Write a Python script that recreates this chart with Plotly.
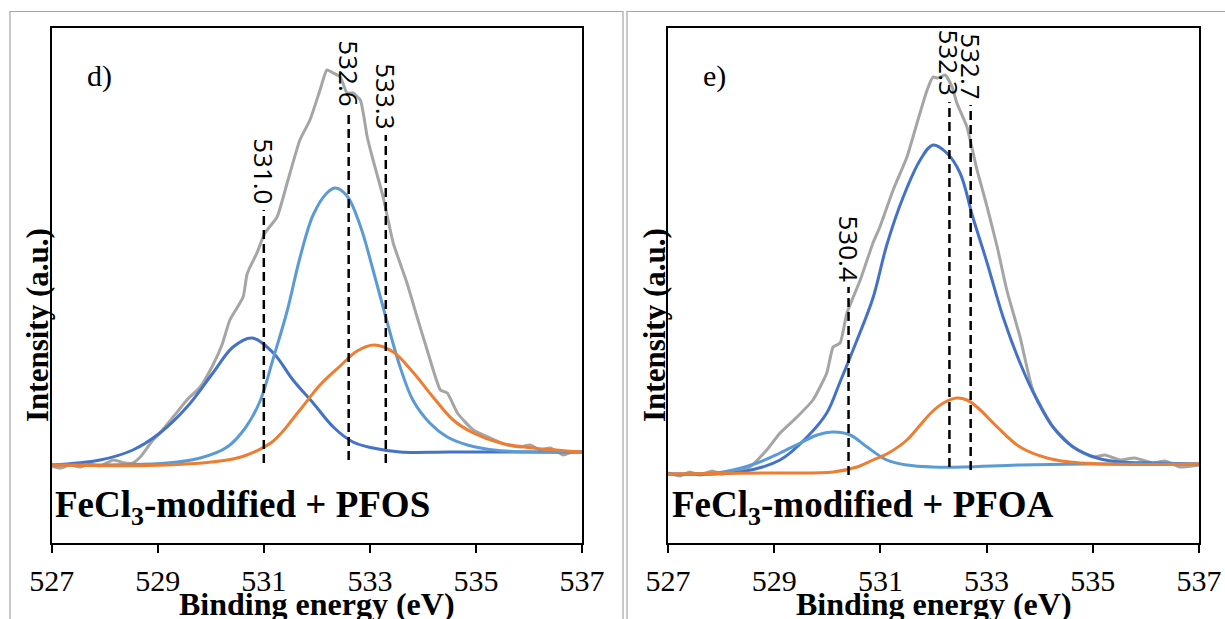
import plotly.graph_objects as go

W, H = 1225, 619

# ---------------- Panel d) FeCl3-modified + PFOS ----------------
d_env_be = [527.0, 527.16, 527.35, 527.53, 527.72, 527.91, 528.16, 528.38, 528.53, 528.67,
            528.91, 529.04, 529.29, 529.55, 529.80, 530.04, 530.21, 530.36, 530.61, 530.68,
            530.74, 530.87, 531.02, 531.25, 531.44, 531.68, 531.87, 532.06, 532.19, 532.31,
            532.44, 532.57, 532.68, 532.82, 532.95, 533.06, 533.25, 533.44, 533.70, 533.89,
            534.08, 534.33, 534.46, 534.65, 534.95, 535.27, 535.59, 535.84, 536.02, 536.21,
            536.40, 536.65, 536.82, 537.0]
d_env_int = [15.4, 15.0, 15.6, 15.2, 15.8, 15.4, 16.6, 16.0, 16.0, 17.2,
             20.6, 22.0, 25.2, 28.6, 31.2, 35.6, 39.6, 44.6, 49.2, 53.6,
             55.2, 58.0, 62.0, 65.2, 72.0, 80.6, 84.6, 90.6, 94.6, 94.0,
             93.2, 90.0, 90.0, 88.6, 81.2, 76.6, 69.2, 60.0, 52.0, 45.2,
             38.6, 30.6, 30.0, 26.0, 22.6, 21.0, 19.6, 19.2, 19.6, 18.6,
             19.0, 17.6, 18.2, 18.2]

d_c1_be = [527.0, 527.91, 528.53, 529.04, 529.55, 530.04, 530.42, 530.78, 531.18, 531.55,
           531.93, 532.31, 532.68, 533.06, 533.57, 534.51, 537.0]
d_c1_int = [15.6, 16.6, 18.6, 22.0, 27.2, 34.0, 39.2, 41.0, 38.0, 32.6,
            28.0, 23.2, 20.2, 19.0, 18.2, 18.2, 18.2]

d_c2_be = [527.0, 529.18, 529.80, 530.31, 530.65, 530.93, 531.18, 531.44, 531.68, 531.93,
           532.19, 532.35, 532.57, 532.82, 533.06, 533.33, 533.57, 533.81, 534.13, 534.46,
           534.84, 535.33, 536.08, 537.0]
d_c2_int = [15.6, 16.0, 17.0, 19.2, 23.0, 28.4, 37.0, 46.4, 57.0, 65.6,
            70.0, 71.0, 69.4, 63.4, 54.6, 44.0, 35.2, 28.6, 24.0, 21.2,
            19.6, 18.6, 18.2, 18.2]

d_c3_be = [527.0, 529.18, 530.31, 530.68, 531.18, 531.68, 532.06, 532.44, 532.76, 533.08,
           533.44, 533.81, 534.19, 534.57, 534.95, 535.46, 536.08, 537.0]
d_c3_int = [15.6, 15.6, 16.6, 17.6, 20.4, 26.6, 31.6, 35.4, 38.4, 39.6,
            38.2, 34.2, 29.2, 24.6, 22.0, 20.0, 19.0, 18.2]

d_peak_be = [531.0, 532.6, 533.3]
d_peak_top = [66.6, 86.2, 81.6]
d_peak_base = [16.0, 16.6, 16.0]

# ---------------- Panel e) FeCl3-modified + PFOA ----------------
e_env_be = [527.0, 527.23, 527.41, 527.60, 527.83, 528.02, 528.22, 528.54, 528.86, 529.11,
            529.43, 529.73, 529.99, 530.11, 530.24, 530.37, 530.62, 530.86, 530.99, 531.24,
            531.50, 531.69, 531.88, 531.99, 532.08, 532.22, 532.35, 532.44, 532.63, 532.82,
            533.01, 533.20, 533.38, 533.63, 533.87, 534.25, 534.63, 535.00, 535.23, 535.51,
            535.79, 536.13, 536.36, 536.64, 537.0]
e_env_int = [14.0, 13.4, 14.2, 13.6, 14.4, 13.8, 14.4, 15.2, 18.6, 22.0,
             25.2, 28.6, 34.0, 39.2, 40.0, 46.0, 52.6, 60.0, 63.2, 70.6,
             77.2, 84.0, 90.6, 93.2, 93.0, 93.6, 91.2, 88.0, 83.2, 74.6,
             67.2, 59.2, 50.6, 41.2, 30.6, 23.2, 19.2, 17.2, 17.6, 16.6,
             17.0, 16.0, 16.4, 15.2, 15.6]

e_c1_be = [527.0, 528.36, 529.11, 529.62, 529.99, 530.24, 530.56, 530.86, 531.12, 531.43,
           531.75, 531.99, 532.25, 532.50, 532.74, 533.01, 533.31, 533.63, 533.95, 534.25,
           534.63, 535.08, 535.51, 536.13, 537.0]
e_c1_int = [13.8, 14.2, 16.6, 21.2, 26.0, 32.2, 40.6, 49.0, 59.6, 69.2,
            76.6, 79.6, 78.0, 74.0, 65.2, 56.0, 45.2, 36.0, 28.6, 23.2,
            19.2, 17.0, 16.2, 16.0, 15.8]

e_c2_be = [527.0, 528.04, 528.68, 529.11, 529.49, 529.81, 530.11, 530.43, 530.75, 531.12,
           531.50, 531.99, 532.56, 533.63, 534.89, 537.0]
e_c2_int = [13.8, 14.2, 16.0, 18.0, 20.0, 21.6, 22.2, 21.6, 19.2, 16.6,
            15.6, 15.2, 15.2, 15.6, 15.8, 15.8]

e_c3_be = [527.0, 528.98, 530.11, 530.56, 530.86, 531.12, 531.50, 531.75, 531.99, 532.22,
           532.44, 532.63, 532.82, 533.20, 533.63, 534.14, 534.76, 537.0]
e_c3_int = [13.8, 14.0, 14.2, 15.2, 16.6, 17.8, 20.6, 23.6, 26.4, 28.2,
            29.0, 28.6, 27.2, 23.2, 19.2, 17.0, 16.0, 15.8]

e_peak_be = [530.4, 532.3, 532.7]
e_peak_top = [51.2, 88.2, 87.6]
e_peak_base = [13.6, 15.2, 14.6]

x_ticks = [527, 529, 531, 533, 535, 537]
x_range = [527, 537]
y_range = [0, 103]

GRAY = "#A5A5A5"
DARK_BLUE = "#4472C4"
LIGHT_BLUE = "#5B9BD5"
ORANGE = "#ED7D31"

SERIF = "Liberation Serif"
SANS = "Open Sans"


def px(x):
    return x / W


def py(y):
    return 1 - y / H


panels = [
    dict(xa="x", ya="y", dom_x=[px(51.7), px(582)],
         env=(d_env_be, d_env_int),
         comps=[(d_c1_be, d_c1_int, DARK_BLUE), (d_c2_be, d_c2_int, LIGHT_BLUE),
                (d_c3_be, d_c3_int, ORANGE)],
         peaks=(d_peak_be, d_peak_top, d_peak_base),
         tag="d)", tag_x=99, sample="FeCl<sub>3</sub>-modified + PFOS", sample_x=53,
         ylab_x=37),
    dict(xa="x2", ya="y2", dom_x=[px(668), px(1199)],
         env=(e_env_be, e_env_int),
         comps=[(e_c1_be, e_c1_int, DARK_BLUE), (e_c2_be, e_c2_int, LIGHT_BLUE),
                (e_c3_be, e_c3_int, ORANGE)],
         peaks=(e_peak_be, e_peak_top, e_peak_base),
         tag="e)", tag_x=714, sample="FeCl<sub>3</sub>-modified + PFOA", sample_x=670,
         ylab_x=654),
]

fig = go.Figure()
annotations = []
shapes = []

# outer panel frames
shapes.append(dict(type="rect", xref="paper", yref="paper",
                   x0=px(10), x1=px(623), y0=py(640), y1=py(11.5),
                   line=dict(color="#A6A6A6", width=1.2), fillcolor="rgba(0,0,0,0)", layer="below"))
shapes.append(dict(type="rect", xref="paper", yref="paper",
                   x0=px(627), x1=px(1240), y0=py(640), y1=py(11.5),
                   line=dict(color="#A6A6A6", width=1.2), fillcolor="rgba(0,0,0,0)", layer="below"))

for p in panels:
    xa, ya = p["xa"], p["ya"]
    be, inten = p["env"]
    fig.add_trace(go.Scatter(x=be, y=inten, xaxis=xa, yaxis=ya, mode="lines",
                             line=dict(color=GRAY, width=3, shape="spline", smoothing=0.5),
                             showlegend=False, hoverinfo="skip"))
    for cbe, cint, col in p["comps"]:
        fig.add_trace(go.Scatter(x=cbe, y=cint, xaxis=xa, yaxis=ya, mode="lines",
                                 line=dict(color=col, width=3, shape="spline", smoothing=1.0),
                                 showlegend=False, hoverinfo="skip"))
    pk_be, pk_top, pk_base = p["peaks"]
    for v, top, base in zip(pk_be, pk_top, pk_base):
        fig.add_trace(go.Scatter(x=[v, v], y=[base, top], xaxis=xa, yaxis=ya, mode="lines",
                                 line=dict(color="black", width=2.5, dash="9px,5px"),
                                 showlegend=False, hoverinfo="skip"))
        annotations.append(dict(x=v, y=top, xref=xa, yref=ya, text=f"{v:.1f}",
                                textangle=90, showarrow=False, xanchor="center",
                                yanchor="bottom", yshift=4,
                                font=dict(family=SANS, size=26, color="black")))
    # panel tag
    annotations.append(dict(x=px(p["tag_x"]), y=py(76), xref="paper", yref="paper",
                            text=p["tag"], showarrow=False, xanchor="center", yanchor="middle",
                            font=dict(family=SERIF, size=30, color="black")))
    # sample name
    annotations.append(dict(x=px(p["sample_x"]), y=py(507), xref="paper", yref="paper",
                            text=f"<b>{p['sample']}</b>", showarrow=False, xanchor="left",
                            yanchor="middle", font=dict(family=SERIF, size=37, color="black")))
    # axis titles
    annotations.append(dict(x=(p["dom_x"][0] + p["dom_x"][1]) / 2, y=py(604), xref="paper",
                            yref="paper", text="<b>Binding energy (eV)</b>", showarrow=False,
                            xanchor="center", yanchor="middle",
                            font=dict(family=SERIF, size=32, color="black")))
    annotations.append(dict(x=px(p["ylab_x"]), y=py(325), xref="paper", yref="paper",
                            text="<b>Intensity (a.u.)</b>", textangle=-90, showarrow=False,
                            xanchor="center", yanchor="middle",
                            font=dict(family=SERIF, size=31, color="black")))

xaxis_common = dict(range=x_range, tickmode="array", tickvals=x_ticks,
                    ticktext=[str(t) for t in x_ticks], ticks="outside", ticklen=8,
                    tickwidth=2, tickcolor="black", showline=True, linecolor="black",
                    linewidth=2, mirror=True, showgrid=False, zeroline=False,
                    tickfont=dict(family=SERIF, size=30, color="black"),
                    ticklabelstandoff=2, automargin=False, fixedrange=True)
yaxis_common = dict(range=y_range, showticklabels=False, ticks="", showline=True,
                    linecolor="black", linewidth=2, mirror=True, showgrid=False,
                    zeroline=False, domain=[py(543), py(28)], automargin=False,
                    fixedrange=True)

fig.update_layout(
    width=W, height=H, autosize=False,
    margin=dict(l=0, r=0, t=0, b=0, pad=0),
    paper_bgcolor="white", plot_bgcolor="white",
    xaxis=dict(xaxis_common, domain=panels[0]["dom_x"], anchor="y"),
    yaxis=dict(yaxis_common, anchor="x"),
    xaxis2=dict(xaxis_common, domain=panels[1]["dom_x"], anchor="y2"),
    yaxis2=dict(yaxis_common, anchor="x2"),
    annotations=annotations,
    shapes=shapes,
    showlegend=False,
)

fig.write_html("out.html")
